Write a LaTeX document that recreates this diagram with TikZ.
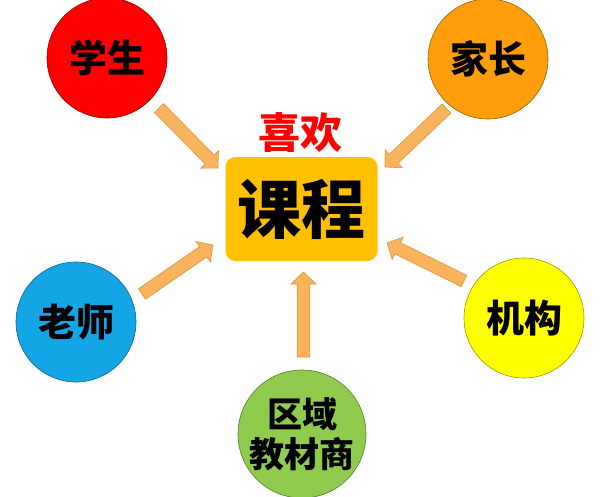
\documentclass[tikz,border=0pt]{standalone}
\usepackage{fontspec}
\newfontfamily\cjk{Noto Sans CJK SC}
\usetikzlibrary{calc}
\definecolor{arrfill}{HTML}{F9B35C}
\definecolor{arrline}{HTML}{E0943E}
\definecolor{cred}{HTML}{FF0000}
\definecolor{corange}{HTML}{FF9E0A}
\definecolor{cblue}{HTML}{14A5E6}
\definecolor{cyellow}{HTML}{FFFF00}
\definecolor{cgreen}{HTML}{8FCC4E}
\definecolor{cbox}{HTML}{FFC000}
\tikzset{
  bubble/.style={circle, minimum size=120pt, inner sep=0pt, draw=#1!60!black, line width=0.6pt, fill=#1,
     font=\cjk\bfseries\fontsize{38}{40}\selectfont, align=center},
  blockarr/.style={fill=arrfill, draw=arrline, line width=0.6pt, line join=miter},
}
\newcommand{\blockarrow}[2]{%
  \coordinate (h#1#2) at ($(#2)!12pt!(#1)$);
  \filldraw[blockarr] ($(#1)!6.3pt!90:(#2)$) -- ($(h#1#2)!6.3pt!90:(#2)$) -- ($(h#1#2)!12.5pt!90:(#2)$) -- (#2)
     -- ($(h#1#2)!12.5pt!-90:(#2)$) -- ($(h#1#2)!6.3pt!-90:(#2)$) -- ($(#1)!6.3pt!-90:(#2)$) -- cycle;}
\begin{document}
\begin{tikzpicture}[x=1pt,y=-1pt]
\useasboundingbox[fill=white] (0,0) rectangle (600,496);
\node[fill=cbox, rounded corners=10pt, minimum width=152pt, minimum height=104pt, inner sep=0pt,
  font=\cjk\bfseries\fontsize{64}{66}\selectfont] (course) at (301.5,209) {课程};
\node[text=cred, font=\cjk\bfseries\fontsize{42}{44}\selectfont, inner sep=0pt] (like) at (300,132) {喜欢};
\node[bubble=cred] (stu) at (107,58) {学生};
\node[bubble=corange] (par) at (488,59) {家长};
\node[bubble=cblue] (tea) at (76,322) {老师};
\node[bubble=cyellow] (org) at (524,318) {机构};
\node[bubble=cgreen, font=\cjk\bfseries\fontsize{35}{40}\selectfont] (pub) at (302,434) {区域\\教材商};
\coordinate (s1) at (159,108); \coordinate (t1) at (218,168);
\coordinate (s2) at (446.5,108.5); \coordinate (t2) at (385,167);
\coordinate (s3) at (142,294); \coordinate (t3) at (213,245);
\coordinate (s4) at (464,281); \coordinate (t4) at (387,243);
\coordinate (s5) at (303.5,357); \coordinate (t5) at (303.5,272);
\blockarrow{s1}{t1}
\blockarrow{s2}{t2}
\blockarrow{s3}{t3}
\blockarrow{s4}{t4}
\blockarrow{s5}{t5}
\end{tikzpicture}
\end{document}
